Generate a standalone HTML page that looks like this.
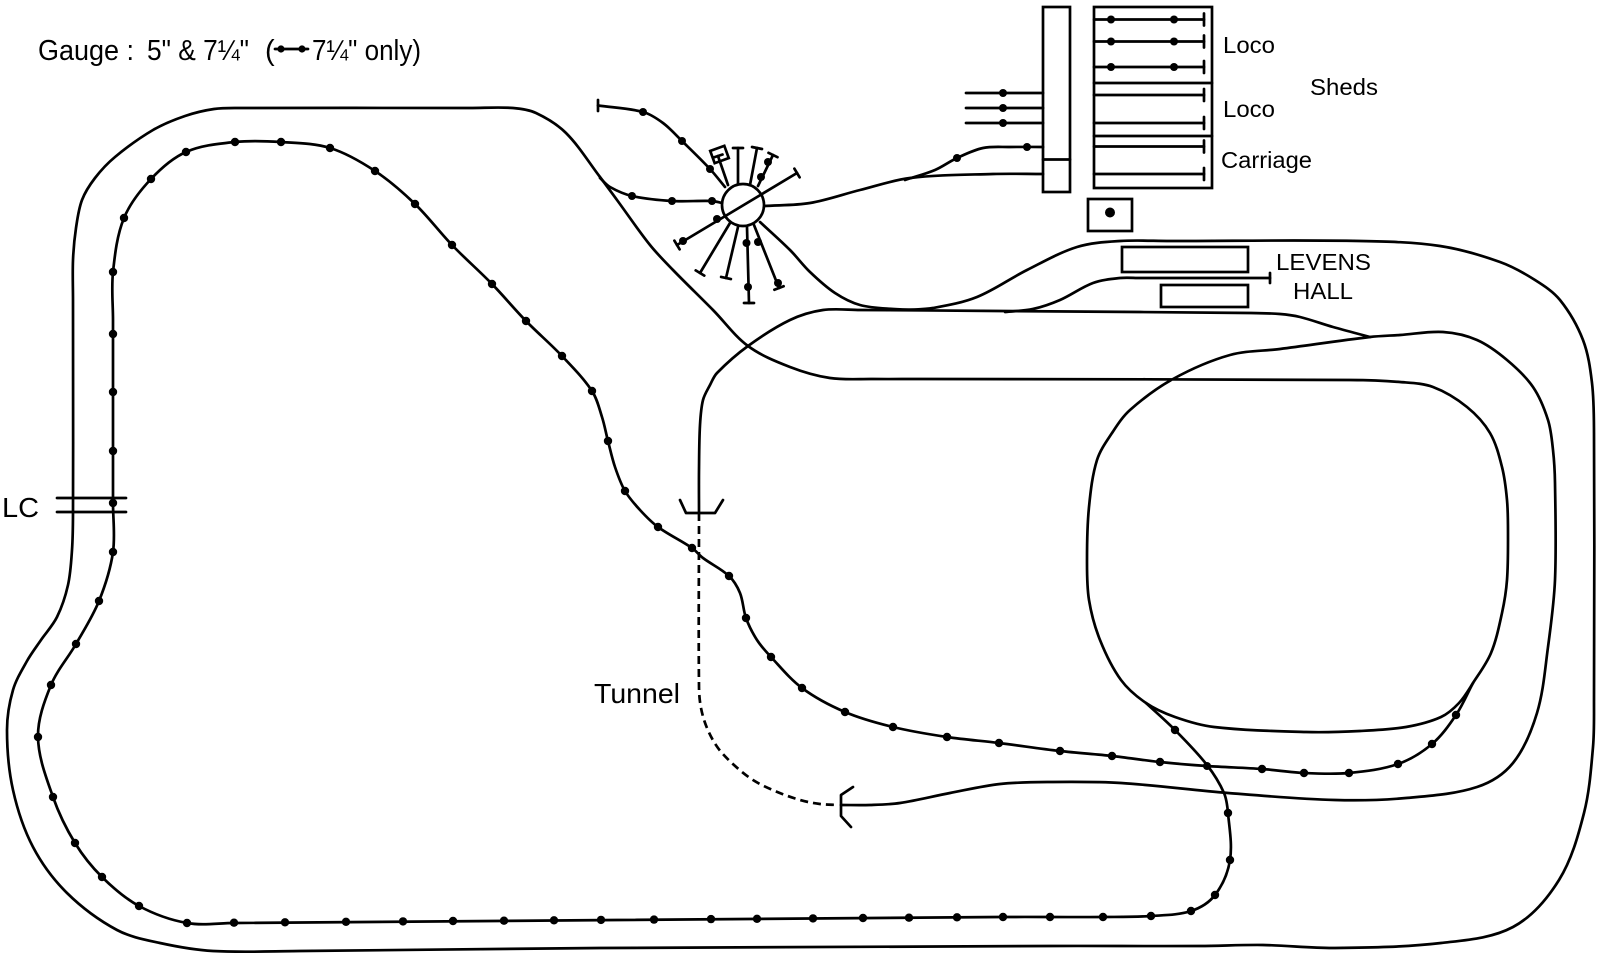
<!DOCTYPE html>
<html>
<head>
<meta charset="utf-8">
<style>
html,body{margin:0;padding:0;background:#fff;}
svg{display:block;}
.s,.t{fill:none;stroke:#000;stroke-width:2.7;stroke-linejoin:round;stroke-linecap:round;}
.d{stroke-dasharray:8 5;stroke-linecap:butt;}
.b{fill:none;stroke:#000;stroke-width:2.7;}
text{font-family:"Liberation Sans",Arial,sans-serif;fill:#000;}
</style>
</head>
<body>
<svg width="1609" height="966" viewBox="0 0 1609 966">
<rect x="0" y="0" width="1609" height="966" fill="#fff"/>

<!-- Texts -->
<text x="38" y="60" font-size="29" textLength="96" lengthAdjust="spacingAndGlyphs">Gauge :</text>
<text x="147" y="60" font-size="29" textLength="102" lengthAdjust="spacingAndGlyphs">5&quot; &amp; 7¼&quot;</text>
<text x="265" y="60" font-size="29">(</text>
<text x="312" y="60" font-size="29" textLength="109" lengthAdjust="spacingAndGlyphs">7¼&quot; only)</text>
<line class="t" x1="275" y1="49" x2="308" y2="49"/>
<circle cx="281" cy="49" r="3.6"/>
<circle cx="302" cy="49" r="3.6"/>

<text x="1223" y="53" font-size="23.5" textLength="52" lengthAdjust="spacingAndGlyphs">Loco</text>
<text x="1223" y="117" font-size="23.5" textLength="52" lengthAdjust="spacingAndGlyphs">Loco</text>
<text x="1221" y="168" font-size="23.5" textLength="91" lengthAdjust="spacingAndGlyphs">Carriage</text>
<text x="1310" y="95" font-size="23.5" textLength="68" lengthAdjust="spacingAndGlyphs">Sheds</text>
<text x="1276" y="270" font-size="23.5" textLength="95" lengthAdjust="spacingAndGlyphs">LEVENS</text>
<text x="1293" y="299" font-size="23.5" textLength="60" lengthAdjust="spacingAndGlyphs">HALL</text>
<text x="2" y="517" font-size="27.5" textLength="37" lengthAdjust="spacingAndGlyphs">LC</text>
<text x="594" y="703" font-size="27.5" textLength="86" lengthAdjust="spacingAndGlyphs">Tunnel</text>

<!-- Main outer / line A / oval / to lower portal -->
<polyline class="s" points="905,310 933,308 977,297 1027,270 1077,247 1120,241 1170,241 1360,241 1440,246 1500,262 1535,280 1560,300 1583,340 1592,383 1594,433 1594,700 1593,747 1584,813 1559,880 1513,927 1441,943 1335,948 1263,945 1200,946 1050,946 600,948 300,951 213,951 160,943 117,930 67,893 33,847 13,790 7,730 13,690 27,661 41,640 57,617 68,585 72,550 73,513 73,300 73,260 76,228 82,200 95,178 115,157 153,130 185,116 214,109 240,108 470,108 513,108 536,113 566,133 600,177 617,200 650,245 673,270 713,310 748,346 790,367 830,378 873,379 920,379 1350,380 1400,382 1433,387 1467,407 1490,433 1502,467 1507,500 1508,533 1507,580 1502,613 1491,653 1473,683 1459,703 1441,717 1406,727 1360,731 1306,732 1214,727 1175,717 1146,703 1121,680 1100,640 1089,600 1087,560 1089,507 1097,460 1112,433 1130,410 1173,379 1230,355 1280,349 1370,337 1400,335 1443,332 1477,340 1507,360 1533,387 1548,420 1553,450 1555,483 1555,580 1548,647 1537,713 1513,763 1477,787 1406,798 1335,800 1228,793 1121,783 1050,782 1000,784 950,793 900,803 870,805 841,805"/>

<!-- Tunnel line (upper portal to y=310 line) -->
<polyline class="s" points="699,513 699,470 700,425 703,400 710,385 717,373 748,346 790,320 823,310 860,310 1000,311 1250,313 1280,314 1300,317 1333,327 1370,337"/>

<!-- Turntable lower right to junction -->
<polyline class="s" points="760,222 790,250 810,272 835,293 860,305 893,309 927,310"/>

<!-- Levens siding -->
<polyline class="s" points="1005,312 1033,309 1060,300 1093,283 1120,278 1140,278 1270,278"/>
<line class="t" x1="1270" y1="273" x2="1270" y2="283"/>

<!-- Dotted 7 1/4 line -->
<polyline class="s" points="1473,683 1456,715 1432,744 1398,764 1349,773 1304,773 1262,769 1207,766 1160,762 1112,756 1060,751 999,743 947,737 893,727 845,712 802,688 771,657 757,640 746,618 740,593 729,576 703,558 692,548 658,527 640,510 625,491 615,467 608,441 602,417 592,391 562,356 526,321 492,284 452,245 415,204 375,171 330,148 281,142 235,142 186,152 151,179 124,218 113,272 113,320 113,503 113,552 99,601 76,644 51,685 38,737 53,797 75,843 102,877 139,906 187,923 234,923 1000,917 1050,917 1103,917 1151,916 1191,911 1215,895 1230,860 1228,813 1224,793 1207,765 1175,730 1146,703"/>

<!-- Dashed tunnel -->
<polyline class="s d" points="699,513 699,687 701,708 707,728 718,748 734,765 753,780 775,791 800,800 820,804 838,805"/>

<!-- Portals -->
<polyline class="t" points="680,500 686,513 715,513 723,500"/>
<polyline class="t" points="853,787 841,795 841,816 851,827"/>

<!-- LC -->
<line class="t" x1="57" y1="498" x2="126" y2="498"/>
<line class="t" x1="57" y1="512" x2="126" y2="512"/>

<!-- Turntable -->
<polyline class="s" points="598,105.5 643,112 663,123 682,141 710,169 725,187"/>
<line class="t" x1="598" y1="100" x2="598" y2="111"/>
<polyline class="s" points="600,178 610,187 632,196 672,201 712,201 722,203"/>
<polyline class="s" points="764,206 810,203 860,190 910,178 993,174 1043,174"/>
<polyline class="s" points="905,180 935,170 957,158 983,148 1010,147 1043,147"/>

<!-- radials -->
<line class="t" x1="730" y1="223" x2="700" y2="273"/>
<line class="t" x1="695.7" y1="270.4" x2="704.3" y2="275.6"/>
<line class="t" x1="738" y1="227" x2="726" y2="278"/>
<line class="t" x1="721.1" y1="276.9" x2="730.9" y2="279.1"/>
<line class="t" x1="747" y1="227" x2="749" y2="303"/>
<line class="t" x1="744" y1="303" x2="754" y2="303"/>
<line class="t" x1="754" y1="225" x2="779" y2="288"/>
<line class="t" x1="774.4" y1="289.8" x2="783.6" y2="286.2"/>
<line class="t" x1="738" y1="185" x2="738" y2="148"/>
<line class="t" x1="733" y1="148" x2="743" y2="148"/>
<line class="t" x1="750" y1="185" x2="757" y2="148"/>
<line class="t" x1="752" y1="147" x2="762" y2="149"/>
<line class="t" x1="758" y1="186" x2="773" y2="155"/>
<line class="t" x1="768.5" y1="152.8" x2="777.5" y2="157.2"/>
<line class="t" x1="728" y1="185" x2="718" y2="156"/>
<line class="t" x1="713.5" y1="157.5" x2="722.5" y2="154.5"/>
<rect x="712" y="148" width="15" height="13" class="b" stroke-width="2.2" transform="rotate(-20 719.5 154.5)"/>

<circle cx="743" cy="205" r="21" fill="#fff" stroke="#000" stroke-width="2.7"/>
<line class="t" x1="677" y1="245" x2="797" y2="173"/>
<line class="t" x1="674.4" y1="240.7" x2="679.6" y2="249.3"/>
<line class="t" x1="794.4" y1="168.7" x2="799.6" y2="177.3"/>

<g fill="#000">
<circle cx="683" cy="241" r="4"/><circle cx="717" cy="219" r="4"/>
<circle cx="746.5" cy="243" r="4"/><circle cx="748" cy="287" r="4"/>
<circle cx="758" cy="242" r="4"/><circle cx="778" cy="283" r="4"/>
<circle cx="761" cy="177" r="4"/><circle cx="768" cy="162" r="4"/>
<circle cx="643" cy="112" r="4"/><circle cx="682" cy="141" r="4"/><circle cx="710" cy="169" r="4"/>
<circle cx="632" cy="196" r="4"/><circle cx="672" cy="201" r="4"/><circle cx="712" cy="201" r="4"/>
<circle cx="957" cy="158" r="4"/><circle cx="1027" cy="147" r="4"/>
</g>

<!-- Sheds -->
<rect class="b" x="1043" y="7" width="27" height="185"/>
<line class="t" x1="1043" y1="159.5" x2="1070" y2="159.5"/>
<rect class="b" x="1094" y="7" width="118" height="181"/>
<line class="t" x1="1094" y1="83" x2="1212" y2="83"/>
<line class="t" x1="1094" y1="136" x2="1212" y2="136"/>
<g class="t">
<line x1="1094" y1="19.5" x2="1204" y2="19.5"/><line x1="1204" y1="13.5" x2="1204" y2="25.5"/>
<line x1="1094" y1="41.5" x2="1204" y2="41.5"/><line x1="1204" y1="35.5" x2="1204" y2="47.5"/>
<line x1="1094" y1="67" x2="1204" y2="67"/><line x1="1204" y1="61" x2="1204" y2="73"/>
<line x1="1094" y1="95" x2="1204" y2="95"/><line x1="1204" y1="89" x2="1204" y2="101"/>
<line x1="1094" y1="123" x2="1204" y2="123"/><line x1="1204" y1="117" x2="1204" y2="129"/>
<line x1="1094" y1="146.5" x2="1204" y2="146.5"/><line x1="1204" y1="140.5" x2="1204" y2="152.5"/>
<line x1="1094" y1="174" x2="1204" y2="174"/><line x1="1204" y1="168" x2="1204" y2="180"/>
<line x1="966" y1="93" x2="1043" y2="93"/>
<line x1="966" y1="108" x2="1043" y2="108"/>
<line x1="966" y1="123" x2="1043" y2="123"/>
</g>
<g fill="#000">
<circle cx="1111" cy="19.5" r="4"/><circle cx="1174" cy="19.5" r="4"/>
<circle cx="1111" cy="41.5" r="4"/><circle cx="1174" cy="41.5" r="4"/>
<circle cx="1111" cy="67" r="4"/><circle cx="1174" cy="67" r="4"/>
<circle cx="1003" cy="93" r="4"/><circle cx="1003" cy="108" r="4"/><circle cx="1003" cy="123" r="4"/>
<circle cx="1110" cy="212.5" r="5"/>
</g>
<rect class="b" x="1088" y="199" width="44" height="32"/>

<!-- Levens Hall platforms -->
<rect class="b" x="1122" y="247" width="126" height="25"/>
<rect class="b" x="1161" y="285" width="87" height="22"/>

<!-- Dots on 7 1/4 line -->
<g fill="#000">
<circle cx="113" cy="272" r="4.2"/><circle cx="124" cy="218" r="4.2"/><circle cx="151" cy="179" r="4.2"/><circle cx="186" cy="152" r="4.2"/>
<circle cx="235" cy="142" r="4.2"/><circle cx="281" cy="142" r="4.2"/><circle cx="330" cy="148" r="4.2"/><circle cx="375" cy="171" r="4.2"/>
<circle cx="415" cy="204" r="4.2"/><circle cx="452" cy="245" r="4.2"/><circle cx="492" cy="284" r="4.2"/><circle cx="526" cy="321" r="4.2"/>
<circle cx="562" cy="356" r="4.2"/><circle cx="592" cy="391" r="4.2"/><circle cx="608" cy="441" r="4.2"/><circle cx="625" cy="491" r="4.2"/>
<circle cx="658" cy="527" r="4.2"/><circle cx="692" cy="548" r="4.2"/><circle cx="729" cy="576" r="4.2"/><circle cx="746" cy="618" r="4.2"/>
<circle cx="771" cy="657" r="4.2"/><circle cx="802" cy="688" r="4.2"/><circle cx="845" cy="712" r="4.2"/><circle cx="893" cy="727" r="4.2"/>
<circle cx="947" cy="737" r="4.2"/><circle cx="999" cy="743" r="4.2"/><circle cx="1060" cy="751" r="4.2"/><circle cx="1112" cy="756" r="4.2"/>
<circle cx="1160" cy="762" r="4.2"/><circle cx="1207" cy="766" r="4"/><circle cx="1262" cy="769" r="4.2"/><circle cx="1304" cy="773" r="4.2"/>
<circle cx="1349" cy="773" r="4.2"/><circle cx="1398" cy="764" r="4.2"/><circle cx="1432" cy="744" r="4.2"/><circle cx="1456" cy="715" r="4.2"/>
<circle cx="113" cy="334" r="4.2"/><circle cx="113" cy="392" r="4.2"/><circle cx="113" cy="451" r="4.2"/><circle cx="113" cy="503" r="4.2"/>
<circle cx="113" cy="552" r="4.2"/><circle cx="99" cy="601" r="4.2"/><circle cx="76" cy="644" r="4.2"/><circle cx="51" cy="685" r="4.2"/>
<circle cx="38" cy="737" r="4.2"/><circle cx="53" cy="797" r="4.2"/><circle cx="75" cy="843" r="4.2"/><circle cx="102" cy="877" r="4.2"/>
<circle cx="139" cy="906" r="4.2"/><circle cx="187" cy="923" r="4.2"/>
<circle cx="234" cy="922.7" r="4.2"/><circle cx="285" cy="922.3" r="4.2"/><circle cx="346" cy="921.8" r="4.2"/><circle cx="403" cy="921.4" r="4.2"/>
<circle cx="453" cy="921" r="4.2"/><circle cx="504" cy="920.7" r="4.2"/><circle cx="554" cy="920.3" r="4.2"/><circle cx="601" cy="919.9" r="4.2"/>
<circle cx="654" cy="919.6" r="4.2"/><circle cx="711" cy="919.1" r="4.2"/><circle cx="757" cy="918.8" r="4.2"/><circle cx="813" cy="918.4" r="4.2"/>
<circle cx="863" cy="918" r="4.2"/><circle cx="909" cy="917.7" r="4.2"/><circle cx="957" cy="917.3" r="4.2"/><circle cx="1003" cy="917" r="4.2"/>
<circle cx="1050" cy="917" r="4.2"/><circle cx="1103" cy="917" r="4.2"/><circle cx="1151" cy="916" r="4.2"/>
<circle cx="1191" cy="911" r="4.2"/><circle cx="1215" cy="895" r="4.2"/><circle cx="1230" cy="860" r="4.2"/><circle cx="1228" cy="813" r="4.2"/>
<circle cx="1175" cy="730" r="4.2"/>
</g>
</svg>
<script>
(function(){
 var pls=document.querySelectorAll('polyline.s');
 for(var k=0;k<pls.length;k++){
  var pl=pls[k];
  var a=pl.getAttribute('points').trim().split(/\s+/).map(function(s){var q=s.split(',');return [+q[0],+q[1]];});
  var n=a.length,T=[],i;
  for(i=0;i<n;i++){
   var p=a[Math.max(0,i-1)],q=a[Math.min(n-1,i+1)];
   var dx=q[0]-p[0],dy=q[1]-p[1],l=Math.sqrt(dx*dx+dy*dy)||1;
   T.push([dx/l,dy/l]);
  }
  var d='M'+a[0][0]+','+a[0][1];
  for(i=0;i<n-1;i++){
   var ex=a[i+1][0]-a[i][0],ey=a[i+1][1]-a[i][1];
   var L=Math.sqrt(ex*ex+ey*ey)/3;
   d+=' C'+(a[i][0]+T[i][0]*L).toFixed(2)+','+(a[i][1]+T[i][1]*L).toFixed(2)+' '+(a[i+1][0]-T[i+1][0]*L).toFixed(2)+','+(a[i+1][1]-T[i+1][1]*L).toFixed(2)+' '+a[i+1][0]+','+a[i+1][1];
  }
  var path=document.createElementNS(pl.namespaceURI,'path');
  path.setAttribute('d',d);
  path.setAttribute('class',pl.getAttribute('class'));
  pl.parentNode.replaceChild(path,pl);
 }
})();
</script>
</body>
</html>
